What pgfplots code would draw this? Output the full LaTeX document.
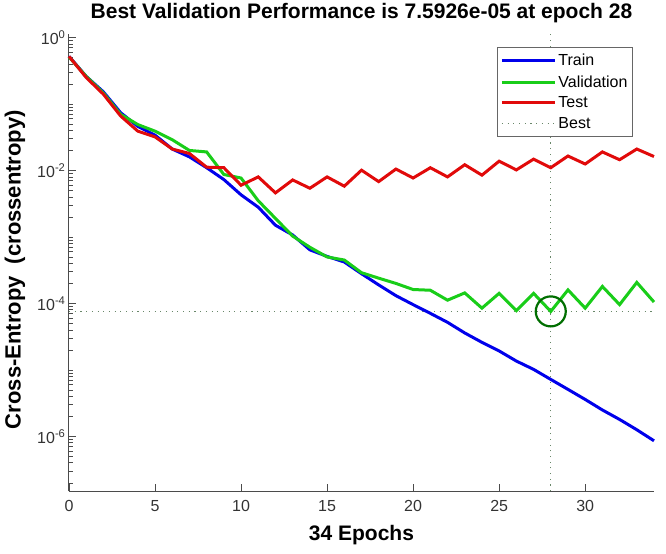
\documentclass[border=0pt]{standalone}
\usepackage{fontspec}
\setmainfont{Liberation Sans}
\usepackage{pgfplots}
\pgfplotsset{compat=1.18}
\definecolor{mblue}{RGB}{0,0,235}
\definecolor{mgreen}{RGB}{25,205,25}
\definecolor{mred}{RGB}{225,10,10}
\definecolor{mbest}{RGB}{105,135,105}
\definecolor{mcirc}{RGB}{0,110,0}
\definecolor{axgray}{RGB}{75,75,75}
\begin{document}
\begin{tikzpicture}
\begin{axis}[
  scale only axis, width=585pt, height=457pt,
  ymode=log, xmin=0, xmax=34, ymin=1.5e-7, ymax=1.12,
  axis x line*=bottom, axis y line*=left,
  axis line style={axgray, line width=1pt},
  xtick={0,5,10,15,20,25,30}, xticklabels={0,5,10,15,20,25,30},
  ytick={1,1e-2,1e-4,1e-6},
  yticklabels={10\textsuperscript{0},10\textsuperscript{-2},10\textsuperscript{-4},10\textsuperscript{-6}},
  minor ytick={2e-7,3e-7,4e-7,5e-7,6e-7,7e-7,8e-7,9e-7,
    2e-6,3e-6,4e-6,5e-6,6e-6,7e-6,8e-6,9e-6,1e-5,
    2e-5,3e-5,4e-5,5e-5,6e-5,7e-5,8e-5,9e-5,
    2e-4,3e-4,4e-4,5e-4,6e-4,7e-4,8e-4,9e-4,1e-3,
    2e-3,3e-3,4e-3,5e-3,6e-3,7e-3,8e-3,9e-3,
    2e-2,3e-2,4e-2,5e-2,6e-2,7e-2,8e-2,9e-2,1e-1,
    2e-1,3e-1,4e-1,5e-1,6e-1,7e-1,8e-1,9e-1},
  tick align=inside, major tick length=7pt, minor tick length=4pt,
  tick style={axgray, line width=0.8pt},
  ticklabel style={font=\fontsize{16}{18}\selectfont, text=black!80},
  xticklabel style={yshift=-6pt},
  /pgf/number format/assume math mode=true,
  title={Best Validation Performance is 7.5926e-05 at epoch 28},
  title style={font=\fontsize{21}{23}\selectfont\bfseries, at={(axis description cs:0.5,1.033)}, anchor=center},
  xlabel={34 Epochs},
  xlabel style={font=\fontsize{21}{23}\selectfont\bfseries, at={(axis description cs:0.5,-0.096)}, anchor=center},
  ylabel={Cross-Entropy\ \ (crossentropy)},
  ylabel style={font=\fontsize{22}{24}\selectfont\bfseries, at={(axis description cs:-0.0923,0.485)}, anchor=center},
  legend style={at={(0.964,0.972)}, anchor=north east, draw=gray!80!black, line width=0.8pt,
    font=\fontsize{16}{18}\selectfont, inner xsep=3pt, inner ysep=5pt, row sep=4pt,
    cells={anchor=west}},
  legend cell align=left,
  legend image code/.code={\draw[#1] (0pt,0pt) -- (53pt,0pt);},
  clip=false,
]
% best lines
\addplot[mbest, line width=1.1pt, dash pattern=on 1.1pt off 4.6pt, forget plot] coordinates {(28,1.5e-7) (28,1.12)};
\addplot[mbest, line width=1.1pt, dash pattern=on 1.1pt off 4.6pt, forget plot] coordinates {(0,7.5926e-5) (34,7.5926e-5)};
% Train
\addplot[mblue, line width=3pt] coordinates {
(0,0.52) (1,0.26) (2,0.152) (3,0.074) (4,0.046) (5,0.034) (6,0.021) (7,0.016)
(8,0.011) (9,0.0073) (10,0.0043) (11,0.0028) (12,0.0015) (13,0.00107) (14,0.00064)
(15,0.00051) (16,0.00042) (17,0.00028) (18,0.00019) (19,0.000131) (20,0.000096)
(21,0.000071) (22,0.000052) (23,0.000036) (24,0.000026) (25,0.0000193) (26,0.0000136)
(27,0.0000102) (28,0.0000072) (29,0.0000051) (30,0.0000036) (31,0.0000025)
(32,0.0000018) (33,0.00000126) (34,0.00000086)};
\addlegendentry{Train}
% Validation
\addplot[mgreen, line width=3pt] coordinates {
(0,0.51) (1,0.26) (2,0.146) (3,0.070) (4,0.049) (5,0.039) (6,0.029) (7,0.020)
(8,0.019) (9,0.0087) (10,0.0077) (11,0.0035) (12,0.0019) (13,0.00103) (14,0.0007)
(15,0.0005) (16,0.00045) (17,0.00029) (18,0.00024) (19,0.0002) (20,0.000162)
(21,0.000158) (22,0.000112) (23,0.000144) (24,0.000085) (25,0.000142) (26,0.000078)
(27,0.000142) (28,0.000075926) (29,0.00016) (30,0.000085) (31,0.00018) (32,0.000096)
(33,0.000207) (34,0.000105)};
\addlegendentry{Validation}
% Test
\addplot[mred, line width=3pt] coordinates {
(0,0.52) (1,0.25) (2,0.14) (3,0.066) (4,0.039) (5,0.032) (6,0.021) (7,0.018)
(8,0.0112) (9,0.011) (10,0.0060) (11,0.0080) (12,0.0046) (13,0.0072) (14,0.0054)
(15,0.0080) (16,0.0058) (17,0.0101) (18,0.0068) (19,0.0105) (20,0.0077)
(21,0.0110) (22,0.0080) (23,0.0122) (24,0.0085) (25,0.0138) (26,0.0102)
(27,0.0148) (28,0.0110) (29,0.0165) (30,0.0125) (31,0.0190) (32,0.0145)
(33,0.0210) (34,0.0162)};
\addlegendentry{Test}
\addlegendimage{mbest, line width=1.1pt, dash pattern=on 1.1pt off 4.6pt}
\addlegendentry{Best}
% best circle
\addplot[mcirc, line width=2.2pt, only marks, mark=o, mark size=15pt, forget plot] coordinates {(28,7.5926e-5)};
\end{axis}
\path ([shift={(-69pt,-62pt)}]current axis.south west) rectangle ([shift={(12pt,27pt)}]current axis.north east);
\end{tikzpicture}
\end{document}
